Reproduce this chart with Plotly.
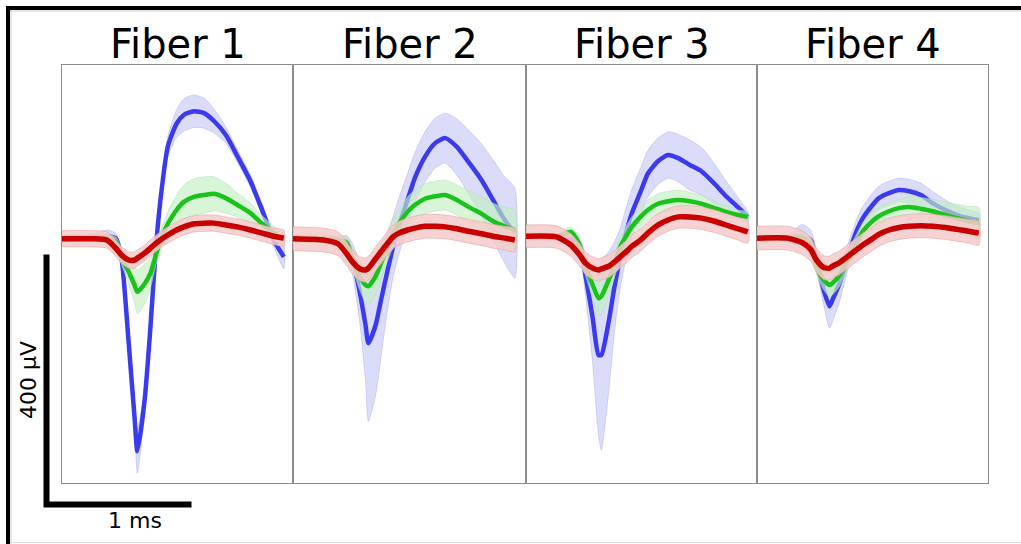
import numpy as np
import plotly.graph_objects as go

# ---------------- data (time in ms, amplitude in µV) ----------------
TITLES = ["Fiber 1", "Fiber 2", "Fiber 3", "Fiber 4"]
TIME_MS = [0, 0.21, 0.31, 0.37, 0.41, 0.46, 0.50, 0.52, 0.57, 0.61, 0.65, 0.69,
           0.73, 0.79, 0.84, 0.91, 0.98, 1.05, 1.13, 1.21, 1.30, 1.38, 1.46, 1.53]

# Fiber 1
F1_BLUE = [3, 5, 6, 3, -29, -165, -283, -338, -256, -139, -5, 86, 150, 186, 200, 206, 203, 190, 168, 134, 94, 48, 0, -27]
F1_BLUE_SD = [5, 5, 10, 8, 10, 13, 24, 35, 19, 13, 10, 13, 16, 22, 26, 26, 24, 19, 13, 10, 10, 10, 11, 19]
F1_GREEN = [2, 2, 3, -3, -26, -51, -72, -83, -70, -53, -22, 6, 26, 48, 61, 69, 72, 74, 67, 56, 43, 26, 11, 0]
F1_GREEN_SD = [5, 5, 6, 8, 13, 19, 29, 35, 32, 24, 16, 16, 19, 24, 27, 29, 29, 27, 24, 19, 16, 13, 11, 10]
F1_RED = [2, 2, 0, -13, -24, -32, -32, -29, -21, -13, -5, 2, 8, 16, 21, 26, 27, 27, 24, 21, 16, 11, 6, 3]
F1_RED_SD = [13, 13, 13, 13, 13, 13, 13, 13, 13, 13, 13, 13, 13, 13, 13, 13, 13, 13, 13, 13, 13, 13, 13, 13]

# Fiber 2
F2_BLUE = [2, 2, 0, -3, -29, -83, -136, -165, -136, -93, -51, -11, 22, 64, 99, 133, 155, 163, 149, 125, 96, 64, 32, 11]
F2_BLUE_SD = [6, 6, 6, 10, 24, 48, 88, 125, 112, 88, 64, 48, 45, 42, 40, 40, 40, 40, 45, 51, 58, 64, 69, 72]
F2_GREEN = [2, 2, 0, -5, -29, -58, -72, -74, -58, -35, -13, 10, 26, 45, 56, 66, 70, 72, 64, 53, 42, 30, 22, 16]
F2_GREEN_SD = [5, 5, 6, 10, 16, 22, 29, 30, 29, 26, 22, 22, 22, 24, 24, 24, 24, 24, 24, 26, 27, 29, 30, 32]
F2_RED = [2, 0, -6, -22, -35, -46, -48, -45, -30, -18, -6, 5, 11, 16, 19, 22, 22, 21, 18, 14, 10, 6, 3, 0]
F2_RED_SD = [19, 19, 19, 19, 19, 19, 19, 19, 19, 19, 19, 19, 19, 19, 19, 19, 19, 19, 19, 19, 19, 19, 19, 19]

# Fiber 3
F3_BLUE = [5, 5, 3, -10, -56, -125, -184, -184, -131, -75, -29, 11, 43, 77, 106, 126, 136, 131, 120, 110, 90, 70, 53, 37]
F3_BLUE_SD = [6, 6, 8, 13, 32, 72, 128, 152, 112, 72, 48, 40, 38, 38, 37, 37, 37, 38, 40, 38, 32, 24, 16, 8]
F3_GREEN = [5, 5, 13, -8, -40, -72, -93, -90, -64, -42, -11, 6, 21, 37, 48, 58, 62, 64, 62, 58, 51, 45, 40, 37]
F3_GREEN_SD = [5, 5, 8, 10, 16, 22, 29, 29, 24, 19, 16, 16, 16, 16, 16, 16, 16, 16, 14, 13, 11, 10, 8, 8]
F3_RED = [6, 5, -8, -24, -37, -45, -48, -46, -42, -35, -27, -19, -10, 0, 11, 24, 32, 37, 37, 35, 30, 24, 18, 13]
F3_RED_SD = [18, 18, 18, 18, 18, 18, 18, 18, 18, 18, 18, 18, 18, 18, 18, 18, 18, 18, 18, 18, 18, 18, 18, 18]

# Fiber 4
F4_BLUE = [3, 3, 6, 0, -32, -80, -106, -96, -69, -40, -10, 16, 35, 54, 67, 75, 80, 78, 72, 59, 48, 40, 35, 32]
F4_BLUE_SD = [5, 5, 19, 16, 16, 24, 35, 35, 29, 22, 19, 19, 19, 19, 19, 19, 19, 19, 19, 19, 16, 14, 13, 11]
F4_GREEN = [3, 3, 5, -8, -42, -64, -72, -69, -56, -38, -21, -3, 14, 29, 38, 46, 51, 53, 50, 46, 40, 35, 30, 27]
F4_GREEN_SD = [6, 6, 10, 10, 13, 16, 19, 19, 18, 16, 14, 14, 14, 14, 14, 14, 14, 16, 18, 19, 21, 22, 24, 26]
F4_RED = [3, 3, -4, -15, -32, -44, -45, -42, -36, -29, -22, -15, -8, 1, 9, 16, 20, 22, 23, 22, 20, 17, 14, 11]
F4_RED_SD = [19, 19, 19, 19, 19, 19, 19, 19, 19, 19, 19, 19, 19, 19, 19, 19, 19, 19, 19, 19, 19, 19, 19, 19]

SCALE_BAR_MS = 1
SCALE_BAR_UV = 400
SCALE_X_LABEL = "1 ms"
SCALE_Y_LABEL = "400 µV"

PANELS = [
    [(F1_BLUE, F1_BLUE_SD), (F1_GREEN, F1_GREEN_SD), (F1_RED, F1_RED_SD)],
    [(F2_BLUE, F2_BLUE_SD), (F2_GREEN, F2_GREEN_SD), (F2_RED, F2_RED_SD)],
    [(F3_BLUE, F3_BLUE_SD), (F3_GREEN, F3_GREEN_SD), (F3_RED, F3_RED_SD)],
    [(F4_BLUE, F4_BLUE_SD), (F4_GREEN, F4_GREEN_SD), (F4_RED, F4_RED_SD)],
]

# ---------------- styling ----------------
W, H = 1021, 544
PX_PER_MS = 145.0
PX_PER_UV = 0.625
LINE_COLORS = ["#3a3aee", "#1cc21c", "#c80000"]
FILL_COLORS = ["rgba(195,195,246,0.6)", "rgba(195,240,195,0.65)", "rgba(246,202,202,0.85)"]
EDGE_COLORS = ["rgba(175,175,235,0.7)", "rgba(175,225,175,0.7)", "rgba(232,165,165,0.9)"]
LINE_WIDTHS = [4.5, 4.5, 5.5]
SMOOTH = 0.6

panel_px = [(62, 293), (293, 526), (526, 757), (757, 988)]
top_px, bot_px, base_px = 65, 483, 240
y_range = [-(bot_px - base_px) / PX_PER_UV, (base_px - top_px) / PX_PER_UV]

fig = go.Figure()
t = np.array(TIME_MS)
layout_axes = {}
for i, series in enumerate(PANELS):
    n = i + 1
    xa = "x" if n == 1 else f"x{n}"
    ya = "y" if n == 1 else f"y{n}"
    for j, (mean, sd) in enumerate(series):
        m = np.array(mean, float)
        s = np.array(sd, float)
        fig.add_trace(go.Scatter(
            x=np.concatenate([t, t[::-1]]), y=np.concatenate([m + s, (m - s)[::-1]]),
            fill="toself", fillcolor=FILL_COLORS[j], mode="lines",
            line=dict(color=EDGE_COLORS[j], width=0.7, shape="spline", smoothing=SMOOTH),
            hoverinfo="skip", showlegend=False, xaxis=xa, yaxis=ya))
        fig.add_trace(go.Scatter(
            x=t, y=m, mode="lines",
            line=dict(color=LINE_COLORS[j], width=LINE_WIDTHS[j], shape="spline", smoothing=SMOOTH),
            showlegend=False, xaxis=xa, yaxis=ya))
    x0p, x1p = panel_px[i]
    key = "" if n == 1 else str(n)
    layout_axes["xaxis" + key] = dict(
        domain=[x0p / W, x1p / W], range=[0, (x1p - x0p) / PX_PER_MS],
        showgrid=False, zeroline=False, showticklabels=False, ticks="",
        showline=True, mirror=True, linecolor="#8c8c8c", linewidth=1,
        anchor=ya, fixedrange=True)
    layout_axes["yaxis" + key] = dict(
        domain=[1 - bot_px / H, 1 - top_px / H], range=y_range,
        showgrid=False, zeroline=False, showticklabels=False, ticks="",
        showline=True, mirror=True, linecolor="#8c8c8c", linewidth=1,
        anchor=xa, fixedrange=True)
    fig.add_annotation(text=TITLES[i], xref="paper", yref="paper",
                       x=(x0p + x1p) / 2 / W, y=1 - 44 / H, xanchor="center", yanchor="middle",
                       showarrow=False, font=dict(family="DejaVu Sans", size=40, color="black"))

# overlay axes spanning the whole figure for the scale bar (same ms / µV scale)
layout_axes["xaxis5"] = dict(domain=[0, 1], range=[0, W / PX_PER_MS], visible=False,
                             anchor="y5", fixedrange=True)
layout_axes["yaxis5"] = dict(domain=[0, 1], range=[0, H / PX_PER_UV], visible=False,
                             anchor="x5", fixedrange=True)
cx = 46.5 / PX_PER_MS
cy = (H - 504.5) / PX_PER_UV
fig.add_trace(go.Scatter(
    x=[cx, cx, cx + SCALE_BAR_MS], y=[cy + SCALE_BAR_UV, cy, cy],
    mode="lines", line=dict(color="black", width=6), showlegend=False,
    hoverinfo="skip", xaxis="x5", yaxis="y5", cliponaxis=False))

fig.add_annotation(text=SCALE_Y_LABEL, xref="paper", yref="paper", x=28 / W, y=1 - 380 / H,
                   textangle=-90, showarrow=False, xanchor="center", yanchor="middle",
                   font=dict(family="DejaVu Sans", size=22, color="black"))
fig.add_annotation(text=SCALE_X_LABEL, xref="paper", yref="paper", x=135 / W, y=1 - 520 / H,
                   showarrow=False, xanchor="center", yanchor="middle",
                   font=dict(family="DejaVu Sans", size=22, color="black"))

shapes = [
    dict(type="line", xref="paper", yref="paper", x0=6 / W, x1=1, y0=1 - 8 / H, y1=1 - 8 / H,
         line=dict(color="black", width=4)),
    dict(type="line", xref="paper", yref="paper", x0=8 / W, x1=8 / W, y0=0, y1=1 - 6 / H,
         line=dict(color="black", width=4)),
    dict(type="line", xref="paper", yref="paper", x0=10 / W, x1=1, y0=1 - 11 / H, y1=1 - 11 / H,
         line=dict(color="#cfcfcf", width=1)),
    dict(type="line", xref="paper", yref="paper", x0=11 / W, x1=11 / W, y0=0, y1=1 - 10 / H,
         line=dict(color="#cfcfcf", width=1)),
    dict(type="line", xref="paper", yref="paper", x0=10 / W, x1=1, y0=1.5 / H, y1=1.5 / H,
         line=dict(color="#dddddd", width=1)),
]

fig.update_layout(width=W, height=H, margin=dict(l=0, r=0, t=0, b=0),
                  paper_bgcolor="white", plot_bgcolor="rgba(0,0,0,0)", showlegend=False,
                  shapes=shapes, **layout_axes)
fig.write_html("out.html", config={"displayModeBar": False},
               post_script="document.body.style.margin='0';document.body.style.overflow='hidden';")
